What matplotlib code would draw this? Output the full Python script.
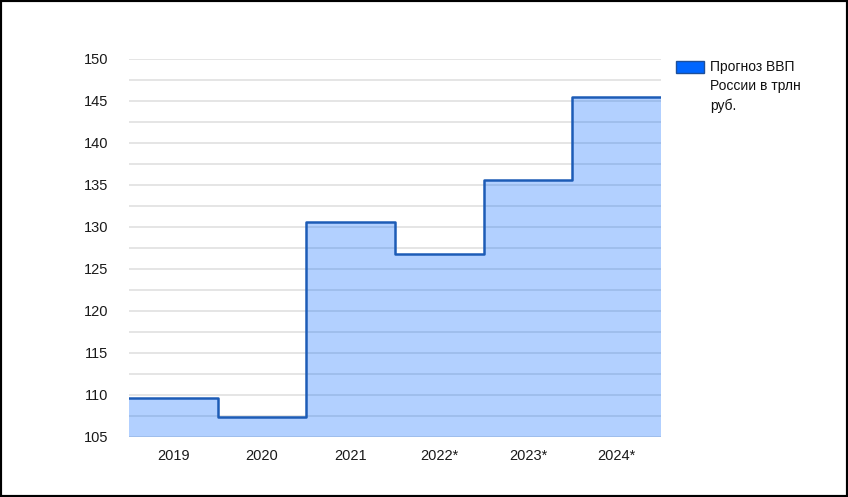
import numpy as np
import matplotlib.pyplot as plt
from matplotlib.patches import Rectangle

plt.rcParams['font.family'] = ['Liberation Sans', 'DejaVu Sans']

# Данные графика
years = ['2019', '2020', '2021', '2022*', '2023*', '2024*']
gdp = [109.6, 107.4, 130.6, 126.8, 135.6, 145.5]
legend_label = 'Прогноз ВВП\nРоссии в трлн\nруб.'

series_color = '#0066ff'
line_color = '#1d5cb6'

fig = plt.figure(figsize=(8.48, 4.97), dpi=100)
ax = fig.add_axes([0.1521, 0.1213, 0.6274, 0.760])

edges = np.arange(len(years) + 1)
vals = gdp + [gdp[-1]]

# Ступенчатая заливка и линия
ax.fill_between(edges, vals, 105, step='post', color=series_color, alpha=0.3,
                linewidth=0, zorder=3)
ax.step(edges, vals, where='post', color=line_color, linewidth=1.8, zorder=4)

ax.set_xlim(0, len(years))
ax.set_ylim(105, 150)
ax.set_xticks(edges[:-1] + 0.5)
ax.set_xticklabels(years)
ax.set_yticks(np.arange(105, 151, 5))
ax.set_yticks(np.arange(107.5, 150, 5), minor=True)

ax.grid(True, which='both', axis='y', color='#e0e0e0', linewidth=1.2, zorder=1)
ax.set_axisbelow(True)
ax.tick_params(axis='both', which='both', length=0, labelsize=10.5, colors='#1a1a1a')
ax.tick_params(axis='y', pad=15)
ax.tick_params(axis='x', pad=9)
for s in ax.spines.values():
    s.set_visible(False)

# Легенда
fig.patches.append(Rectangle((0.797, 0.853), 0.033, 0.024, transform=fig.transFigure,
                             facecolor=series_color, edgecolor='#1d4f9a', linewidth=1))
fig.text(0.837, 0.880, legend_label, fontsize=10, va='top', ha='left',
         color='#111111', linespacing=1.5)

# Рамка
fig.patches.append(Rectangle((0, 0), 1, 1, transform=fig.transFigure,
                             fill=False, edgecolor='black', linewidth=3))

fig.savefig('out.png', dpi=100)
